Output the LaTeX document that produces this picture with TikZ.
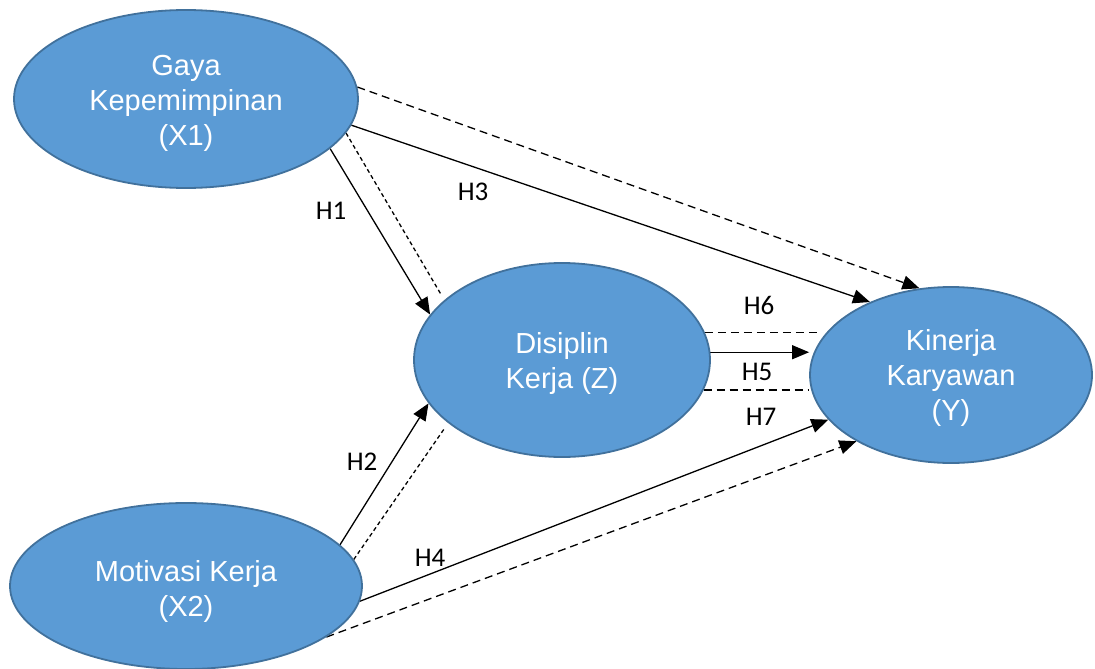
\documentclass[tikz,border=0pt]{standalone}
\usepackage{fontspec}
\setmainfont{Liberation Sans}
\newfontfamily\arialfont{Liberation Sans}
\newfontfamily\labfont{Carlito}
\usetikzlibrary{shapes.geometric,arrows.meta,backgrounds}
\definecolor{nodefill}{HTML}{5B9BD5}
\definecolor{nodeborder}{HTML}{41719C}
\begin{document}
\begin{tikzpicture}[x=1pt,y=-1pt,
  var/.style={ellipse, draw=nodeborder, line width=1.8pt, fill=nodefill, inner sep=0pt},
  vartext/.style={text=white, align=center, font=\arialfont\fontsize{29}{35}\selectfont, inner sep=0pt},
  conn/.style={line width=1.3pt},
  arr/.style={conn, -{Triangle[length=17pt,width=14pt]}},
  longdash/.style={dash pattern=on 8pt off 5pt},
  shortdash/.style={dash pattern=on 4pt off 3pt},
  hlabel/.style={font=\labfont\fontsize{27}{30}\selectfont, inner sep=0pt}]
\useasboundingbox (0,0) rectangle (1095,669);
\node[var, minimum width=344pt, minimum height=178pt] (x1) at (186,99) {};
\node[var, minimum width=296pt, minimum height=194pt] (z) at (562,360) {};
\node[var, minimum width=282pt, minimum height=176pt] (y) at (951,375) {};
\node[var, minimum width=352pt, minimum height=166pt] (x2) at (186,586) {};
\node[vartext] (x1t) at ([yshift=-4pt]x1.center) {Gaya\\Kepemimpinan\\(X1)};
\node[vartext] (zt) at ([yshift=-3pt]z.center) {Disiplin\\Kerja (Z)};
\node[vartext] (yt) at ([yshift=-3pt]y.center) {Kinerja\\Karyawan\\(Y)};
\node[vartext] (x2t) at ([yshift=-5pt]x2.center) {Motivasi Kerja\\(X2)};
\begin{scope}[on background layer]
\draw[arr,longdash] (x1.4) -- (y.110);
\draw[arr] (x1.-9) -- (y.138);
\draw[arr] (x1.-19) -- (z.161);
\draw[conn,shortdash,shorten >=7pt] (x1.-12) -- (z.153);
\draw[arr] (z.3) -- (z.3 -| y.west);
\draw[conn,longdash] (z.11) -- (z.11 -| y.165);
\draw[conn,longdash] (z.-12) -- (z.-12 -| y.west);
\draw[arr] (x2.15) -- (z.-162);
\draw[conn,shortdash,shorten >=6pt] (x2.9) -- (z.-151);
\draw[arr] (x2.-5) -- (y.-160);
\draw[arr,longdash] (x2.-20) -- (y.-145);
\end{scope}
\node[hlabel] (h1) at (331,211) {H1};
\node[hlabel] (h3) at (473,192) {H3};
\node[hlabel] (h6) at (759,305) {H6};
\node[hlabel] (h5) at (757,372) {H5};
\node[hlabel] (h7) at (761,417) {H7};
\node[hlabel] (h2) at (362,462) {H2};
\node[hlabel] (h4) at (430,558) {H4};
\end{tikzpicture}
\end{document}
